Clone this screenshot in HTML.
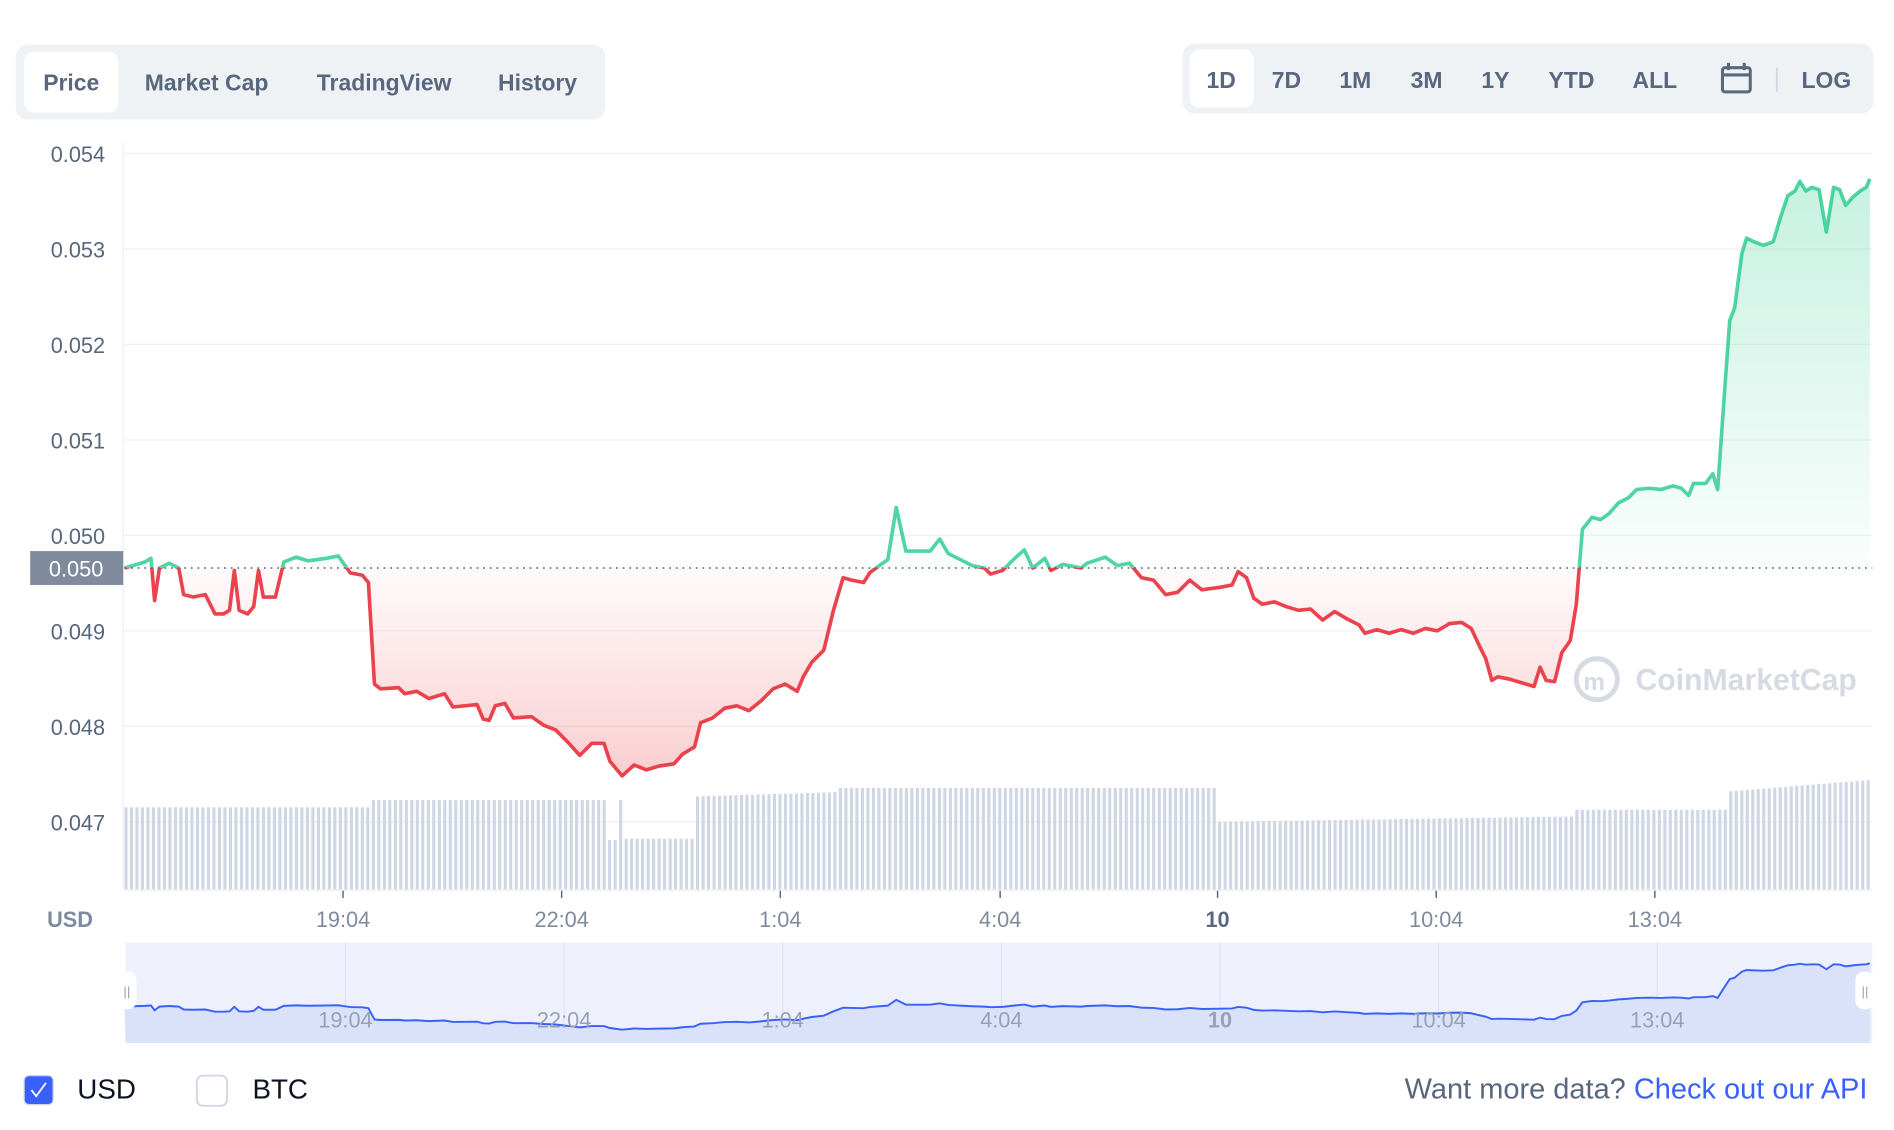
<!DOCTYPE html>
<html><head><meta charset="utf-8">
<style>
html,body{margin:0;padding:0;background:#fff;width:1894px;height:1130px;overflow:hidden}
svg{display:block;font-family:"Liberation Sans",sans-serif}
</style></head><body>
<svg id="s" width="1894" height="1130" viewBox="0 0 1568 935" preserveAspectRatio="none" xmlns="http://www.w3.org/2000/svg">
<defs>
<linearGradient id="gg" x1="0" y1="140" x2="0" y2="470" gradientUnits="userSpaceOnUse"><stop offset="0" stop-color="#16c784" stop-opacity="0.25"/><stop offset="1" stop-color="#16c784" stop-opacity="0.02"/></linearGradient>
<linearGradient id="rg" x1="0" y1="470" x2="0" y2="645" gradientUnits="userSpaceOnUse"><stop offset="0" stop-color="#ea3943" stop-opacity="0.02"/><stop offset="1" stop-color="#ea3943" stop-opacity="0.25"/></linearGradient>
<clipPath id="cliptop"><rect x="0" y="0" width="1568" height="470"/></clipPath>
<clipPath id="clipbot"><rect x="0" y="470" width="1568" height="400"/></clipPath>
</defs>
<rect x="13" y="37" width="488" height="62" rx="10" fill="#eff2f5"/>
<rect x="20" y="43" width="78" height="50" rx="8" fill="#fff"/>
<g font-size="19" font-weight="bold" fill="#58667e">
<text x="59" y="75" text-anchor="middle">Price</text>
<text x="171" y="75" text-anchor="middle">Market Cap</text>
<text x="318" y="75" text-anchor="middle">TradingView</text>
<text x="445" y="75" text-anchor="middle">History</text>
</g>
<rect x="979" y="36" width="572" height="58" rx="10" fill="#eff2f5"/>
<rect x="985" y="41" width="53" height="48" rx="8" fill="#fff"/>
<g font-size="19" font-weight="bold" fill="#58667e" text-anchor="middle">
<text x="1011" y="73">1D</text><text x="1065" y="73">7D</text><text x="1122" y="73">1M</text><text x="1181" y="73">3M</text><text x="1238" y="73">1Y</text><text x="1301" y="73">YTD</text><text x="1370" y="73">ALL</text><text x="1512" y="73">LOG</text>
</g>
<rect x="1426" y="56" width="23" height="20" rx="2" fill="none" stroke="#58667e" stroke-width="2.5"/>
<line x1="1426" y1="62" x2="1449" y2="62" stroke="#58667e" stroke-width="2.5"/>
<line x1="1431" y1="52" x2="1431" y2="58" stroke="#58667e" stroke-width="2.5"/><line x1="1444" y1="52" x2="1444" y2="58" stroke="#58667e" stroke-width="2.5"/>
<line x1="1471" y1="56" x2="1471" y2="76" stroke="#cfd6e4" stroke-width="1.5"/>
<g stroke="#eff2f5" stroke-width="1.2">
<line x1="103" y1="127" x2="1550" y2="127"/><line x1="103" y1="206" x2="1550" y2="206"/><line x1="103" y1="285" x2="1550" y2="285"/><line x1="103" y1="364" x2="1550" y2="364"/><line x1="103" y1="443" x2="1550" y2="443"/><line x1="103" y1="522" x2="1550" y2="522"/><line x1="103" y1="601" x2="1550" y2="601"/><line x1="103" y1="680" x2="1550" y2="680"/>
<line x1="102" y1="118" x2="102" y2="736"/>
</g>
<g font-size="18" fill="#58667e" text-anchor="end">
<text x="87" y="134">0.054</text><text x="87" y="213">0.053</text><text x="87" y="292">0.052</text><text x="87" y="371">0.051</text><text x="87" y="450">0.050</text><text x="87" y="529">0.049</text><text x="87" y="608">0.048</text><text x="87" y="687">0.047</text>
</g>
<g id="bars" fill="#cfd6e4"></g>
<line x1="103" y1="736.5" x2="1550" y2="736.5" stroke="#eff2f5" stroke-width="1.5"/>
<circle cx="1322" cy="562" r="17" fill="none" stroke="#d6dbe3" stroke-width="4"/>
<text x="1311" y="571" font-size="20" font-weight="bold" fill="#d6dbe3">m</text>
<text x="1354" y="571" font-size="25" font-weight="bold" fill="#d6dbe3">CoinMarketCap</text>
<g id="price"></g>
<line x1="103" y1="470" x2="1550" y2="470" stroke="#58667e" stroke-width="1.2" stroke-dasharray="1.5,4"/>
<rect x="25" y="456" width="77" height="28" fill="#808a9d"/>
<text x="63" y="477" font-size="18" fill="#fff" text-anchor="middle">0.050</text>
<g stroke="#58667e" stroke-width="1.2"><line x1="284" y1="737" x2="284" y2="743"/><line x1="465" y1="737" x2="465" y2="743"/><line x1="646" y1="737" x2="646" y2="743"/><line x1="828" y1="737" x2="828" y2="743"/><line x1="1008" y1="737" x2="1008" y2="743"/><line x1="1189" y1="737" x2="1189" y2="743"/><line x1="1370" y1="737" x2="1370" y2="743"/></g>
<g font-size="18" fill="#808a9d" text-anchor="middle">
<text x="58" y="767" font-weight="bold">USD</text>
<text x="284" y="767">19:04</text><text x="465" y="767">22:04</text><text x="646" y="767">1:04</text><text x="828" y="767">4:04</text><text x="1008" y="767" font-weight="bold" fill="#58667e">10</text><text x="1189" y="767">10:04</text><text x="1370" y="767">13:04</text>
</g>
<rect x="104" y="780" width="1446" height="83" fill="#eef1fc"/>
<g stroke="#dde3f3" stroke-width="1"><line x1="286" y1="780" x2="286" y2="863"/><line x1="467" y1="780" x2="467" y2="863"/><line x1="648" y1="780" x2="648" y2="863"/><line x1="829" y1="780" x2="829" y2="863"/><line x1="1010" y1="780" x2="1010" y2="863"/><line x1="1191" y1="780" x2="1191" y2="863"/><line x1="1372" y1="780" x2="1372" y2="863"/></g>
<g id="nav"></g>
<g font-size="18" fill="#98a1b3" text-anchor="middle">
<text x="286" y="850">19:04</text><text x="467" y="850">22:04</text><text x="648" y="850">1:04</text><text x="829" y="850">4:04</text><text x="1010" y="850" font-weight="bold">10</text><text x="1191" y="850">10:04</text><text x="1372" y="850">13:04</text>
</g>
<rect x="97" y="804" width="16" height="31" rx="7" fill="#fff"/><text x="105" y="824" font-size="11" fill="#98a1b3" text-anchor="middle">||</text>
<rect x="1536" y="804" width="16" height="31" rx="7" fill="#fff"/><text x="1544" y="824" font-size="11" fill="#98a1b3" text-anchor="middle">||</text>
<rect x="20" y="890" width="24" height="24" rx="4" fill="#3861fb" stroke="#cfd6e4"/>
<polyline points="26,902 30,907 38,896" fill="none" stroke="#fff" stroke-width="1.5"/>
<text x="64" y="909" font-size="23" fill="#0d1421">USD</text>
<rect x="163" y="890" width="25" height="25" rx="5" fill="#fff" stroke="#cfd6e4" stroke-width="1.5"/>
<text x="209" y="909" font-size="23" fill="#0d1421">BTC</text>
<text x="1546" y="909" font-size="24" text-anchor="end" fill="#58667e">Want more data? <tspan fill="#3861fb">Check out our API</tspan></text>
</svg>
<script>
(function(){
var NS="http://www.w3.org/2000/svg";
function mk(parent,tag,attrs){var e=document.createElementNS(NS,tag);for(var k in attrs)e.setAttribute(k,attrs[k]);parent.appendChild(e);return e;}
var P=[103,470,120,465,125,462,128,497,132,470,140,466,148,470,152,492,160,494,170,492,178,508,185,508,190,505,194,472,198,505,205,508,210,502,214,472,218,494,228,494,235,465,245,461,255,464,270,462,280,460,290,474,300,476,305,482,310,566,315,570,330,569,335,574,345,572,355,578,368,574,375,585,395,583,400,595,405,596,410,584,418,582,425,594,440,593,450,600,460,604,470,614,480,625,490,615,500,615,505,630,515,642,525,633,535,637,545,634,558,632,565,624,575,618,580,598,590,594,600,586,610,584,620,588,630,580,640,570,650,566,660,572,665,560,672,548,682,538,690,505,698,478,705,480,715,482,720,474,728,468,735,463,742,420,750,456,760,456,770,456,778,446,785,458,795,463,805,468,815,470,820,475,830,472,840,462,848,455,855,470,865,462,870,472,880,467,895,470,900,466,915,461,925,468,935,466,945,478,955,480,965,492,975,490,985,480,995,488,1010,486,1020,484,1025,473,1032,478,1038,495,1045,500,1055,498,1065,502,1075,505,1085,504,1095,513,1105,506,1115,512,1125,517,1130,524,1140,521,1150,524,1160,521,1170,524,1180,520,1190,522,1200,516,1210,515,1218,520,1225,535,1230,545,1235,563,1240,560,1250,562,1260,565,1270,568,1275,552,1280,563,1287,564,1293,540,1300,530,1305,500,1310,438,1318,428,1325,430,1332,425,1340,416,1348,412,1355,405,1365,404,1375,405,1385,402,1392,404,1398,410,1402,400,1412,400,1418,392,1422,405,1428,320,1432,265,1436,255,1442,210,1446,197,1452,200,1460,203,1468,200,1474,180,1480,162,1486,158,1490,150,1495,158,1500,155,1506,157,1512,192,1518,155,1523,157,1528,170,1534,163,1540,158,1545,155,1548,148];
var pts=[];for(var i=0;i<P.length;i+=2)pts.push(P[i]+','+P[i+1]);
var line=pts.join(' ');var area='103,470 '+line+' 1548,470';
var g=document.getElementById('price');
mk(g,'polygon',{points:area,fill:'url(#gg)','clip-path':'url(#cliptop)'});
mk(g,'polygon',{points:area,fill:'url(#rg)','clip-path':'url(#clipbot)'});
mk(g,'polyline',{points:line,fill:'none',stroke:'#16c784','stroke-opacity':'0.75','stroke-width':'3','stroke-linejoin':'round','clip-path':'url(#cliptop)'});
mk(g,'polyline',{points:line,fill:'none',stroke:'#ea3943','stroke-opacity':'0.95','stroke-width':'3','stroke-linejoin':'round','clip-path':'url(#clipbot)'});
function barTop(x){
 if(x<307)return 668; if(x<503)return 662; if(x<508)return 695; if(x<517)return 662; if(x<574)return 694;
 if(x<690)return 659-(x-574)*0.03; if(x<1006)return 652; if(x<1300)return 680-(x-1006)*0.015;
 if(x<1428)return 670; return 655-(x-1428)*0.08;}
var bg=document.getElementById('bars');
for(var x=103;x<1549;x+=4.55){var t=barTop(x);mk(bg,'rect',{x:x.toFixed(1),y:t.toFixed(1),width:'2.6',height:(736-t).toFixed(1)});}
var n=[];for(var j=0;j<P.length;j+=2){n.push(P[j]+','+(780.7+P[j+1]*0.111).toFixed(1));}
var nl=n.join(' ');var ng=document.getElementById('nav');
mk(ng,'polygon',{points:'104,863 '+nl+' 1548,863',fill:'#dae2fa'});
mk(ng,'polyline',{points:nl,fill:'none',stroke:'#3861fb','stroke-width':'1.6'});
})();
</script>
</body></html>
